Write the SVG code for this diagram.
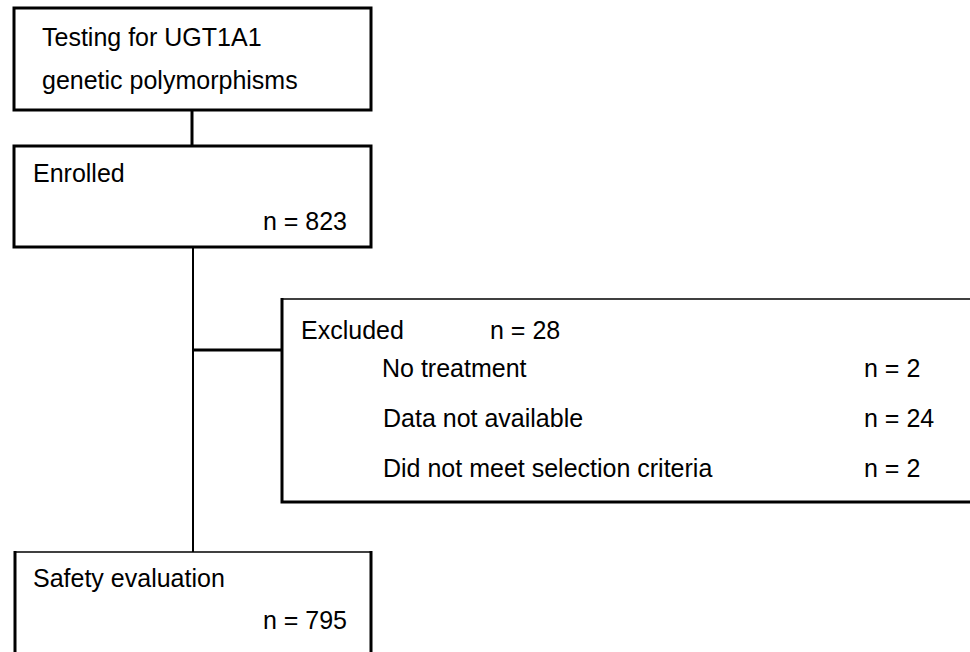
<svg xmlns="http://www.w3.org/2000/svg" width="970" height="652" viewBox="0 0 970 652">
<style>
.t{font-family:"Liberation Sans",Arial,sans-serif;font-size:25px;fill:#000}
.b{fill:#fff;stroke:#000;stroke-width:3}
.bt{fill:none;stroke:#000;stroke-width:1.6}
.c{fill:none;stroke:#000}
</style>
<rect width="970" height="652" fill="#fff"/>
<g id="connectors">
<line class="c" x1="192" y1="110" x2="192" y2="147" stroke-width="3"/>
<line class="c" x1="193" y1="247" x2="193" y2="553" stroke-width="2"/>
<line class="c" x1="193" y1="350" x2="283" y2="350" stroke-width="3"/>
</g>
<g id="testing">
<rect class="b" x="14" y="8" width="357" height="102"/>
<text class="t" x="42" y="46">Testing for UGT1A1</text>
<text class="t" x="42" y="89">genetic polymorphisms</text>
</g>
<g id="enrolled">
<rect class="b" x="14" y="146" width="357" height="101"/>
<text class="t" x="33" y="182">Enrolled</text>
<text class="t" x="347" y="230" text-anchor="end">n = 823</text>
</g>
<g id="excluded">
<path fill="#fff" stroke="none" d="M282 299H972V502H282Z"/>
<path class="bt" d="M282 299H972"/>
<path class="c" stroke-width="3" d="M282 298V502H972"/>
<text class="t" x="301" y="339">Excluded</text>
<text class="t" x="490" y="339">n = 28</text>
<text class="t" x="382" y="377">No treatment</text>
<text class="t" x="864" y="377">n = 2</text>
<text class="t" x="383" y="427">Data not available</text>
<text class="t" x="864" y="427">n = 24</text>
<text class="t" x="383" y="477">Did not meet selection criteria</text>
<text class="t" x="864" y="477">n = 2</text>
</g>
<g id="safety">
<path fill="#fff" stroke="none" d="M15 552H371V660H15Z"/>
<path class="bt" d="M15 552H371"/>
<path class="c" stroke-width="3" d="M15 551V660M371 551V660"/>
<text class="t" x="33" y="587">Safety evaluation</text>
<text class="t" x="347" y="629" text-anchor="end">n = 795</text>
</g>
</svg>
